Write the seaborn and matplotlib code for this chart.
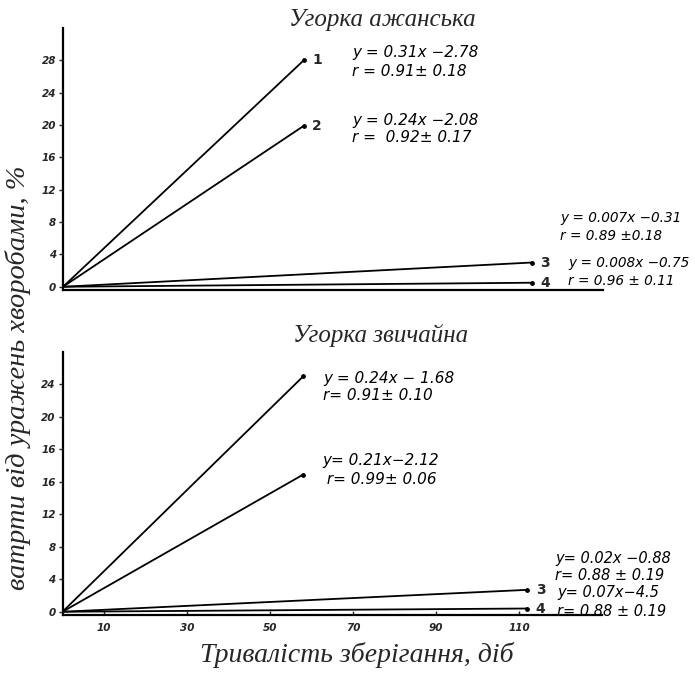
import pandas as pd
import matplotlib.pyplot as plt
import seaborn as sns

# Each regression line goes from the origin to its end point
panel_titles = ['Угорка ажанська', 'Угорка звичайна']
line_ids = ['1', '2', '3', '4']
end_days_top = [58, 58, 113, 113]
end_loss_top = [28.0, 19.9, 3.0, 0.5]
end_days_bottom = [58, 58, 112, 112]
end_loss_bottom = [29.0, 16.9, 2.7, 0.4]

y_ticks = [0, 4, 8, 12, 16, 20, 24, 28]
y_labels_top = ['0', '4', '8', '12', '16', '20', '24', '28']
y_labels_bottom = ['0', '4', '8', '12', '16', '16', '20', '24']
x_ticks = [10, 30, 50, 70, 90, 110]

eq_top = [('y = 0.31x −2.78', 'r = 0.91± 0.18'),
          ('y = 0.24x −2.08', 'r =  0.92± 0.17'),
          ('y = 0.007x −0.31', 'r = 0.89 ±0.18'),
          ('y = 0.008x −0.75', 'r = 0.96 ± 0.11')]
eq_bottom = [('y = 0.24x − 1.68', 'r= 0.91± 0.10'),
             ('y= 0.21x−2.12', ' r= 0.99± 0.06'),
             ('y= 0.02x −0.88', 'r= 0.88 ± 0.19'),
             ('y= 0.07x−4.5', 'r= 0.88 ± 0.19')]


def make_df(days, loss):
    rows = []
    for lid, d, l in zip(line_ids, days, loss):
        rows.append({'line': lid, 'day': 0, 'loss': 0.0})
        rows.append({'line': lid, 'day': d, 'loss': l})
    return pd.DataFrame(rows)


df_top = make_df(end_days_top, end_loss_top)
df_bottom = make_df(end_days_bottom, end_loss_bottom)

sns.set_style('white')
plt.rcParams['font.family'] = ['DejaVu Sans']

W, H = 695, 677
fig = plt.figure(figsize=(W / 100, H / 100), dpi=100)


def fx(x):
    return x / W


def fy(y):
    return 1 - y / H


ax1 = fig.add_axes([fx(63), fy(290), fx(602.5) - fx(63), fy(28) - fy(290)])
ax2 = fig.add_axes([fx(62.5), fy(615), fx(602) - fx(62.5), fy(352) - fy(615)])

for ax, df, ylabels, show_x in [(ax1, df_top, y_labels_top, False),
                                (ax2, df_bottom, y_labels_bottom, True)]:
    sns.lineplot(data=df, x='day', y='loss', units='line', estimator=None,
                 color='black', linewidth=1.3, ax=ax, legend=False)
    ends = df.groupby('line').last()
    ax.scatter(ends['day'], ends['loss'], s=6, color='black', zorder=3)
    ax.set_xlim(0, 130)
    ax.set_ylim(-0.4, 32)
    for side in ['top', 'right']:
        ax.spines[side].set_visible(False)
    for side in ['left', 'bottom']:
        ax.spines[side].set_color('black')
        ax.spines[side].set_linewidth(1.6)
    ax.set_yticks(y_ticks)
    ax.set_yticklabels(ylabels, fontsize=7.5, style='italic', fontweight='bold')
    ax.tick_params(axis='y', direction='out', length=3, width=1, pad=2, left=True)
    if show_x:
        ax.set_xticks(x_ticks)
        ax.set_xticklabels([str(t) for t in x_ticks], fontsize=7.5,
                           style='italic', fontweight='bold')
        ax.tick_params(axis='x', direction='in', length=3, width=1, pad=6, bottom=True)
    else:
        ax.set_xticks([])
    ax.set_xlabel('')
    ax.set_ylabel('')
    ax.set_facecolor('white')

# numbers at the ends of the lines
for lid, d, l in zip(line_ids, end_days_top, end_loss_top):
    ax1.annotate(lid, (d, l), xytext=(6, 0), textcoords='offset points',
                 fontsize=10, fontweight='bold', va='center')
for lid, d, l in zip(line_ids[2:], end_days_bottom[2:], end_loss_bottom[2:]):
    ax2.annotate(lid, (d, l), xytext=(6, 0), textcoords='offset points',
                 fontsize=10, fontweight='bold', va='center')

# regression equations (the right-hand column is a bit smaller so it fits)
top_pos = [(352, 53), (352, 120), (560, 218), (568, 263)]
bottom_pos = [(323, 378), (322, 461), (555, 558), (557, 593)]
sizes = [11, 11, 9.8, 9.8, 11, 11, 10.5, 10.5]
for (eq, r), (x, y), fs in zip(eq_top + eq_bottom, top_pos + bottom_pos, sizes):
    fig.text(fx(x), fy(y), eq, va='center', ha='left', fontsize=fs,
             style='italic', color='black')
    fig.text(fx(x), fy(y + 18), r, va='center', ha='left', fontsize=fs,
             style='italic', color='black')

serif = ['Liberation Serif', 'DejaVu Serif']
fig.text(fx(382), fy(20), panel_titles[0], ha='center', va='center',
         fontsize=18, style='italic', family=serif)
fig.text(fx(381), fy(336), panel_titles[1], ha='center', va='center',
         fontsize=18, style='italic', family=serif)
fig.text(fx(357), fy(655), 'Тривалість зберігання, діб', ha='center', va='center',
         fontsize=20, style='italic', family=serif)
fig.text(fx(18), fy(378), 'ватрти від уражень хворобами, %', ha='center', va='center',
         rotation=90, fontsize=20.5, style='italic', family=serif)

fig.savefig('out.png', dpi=100, facecolor='white')
